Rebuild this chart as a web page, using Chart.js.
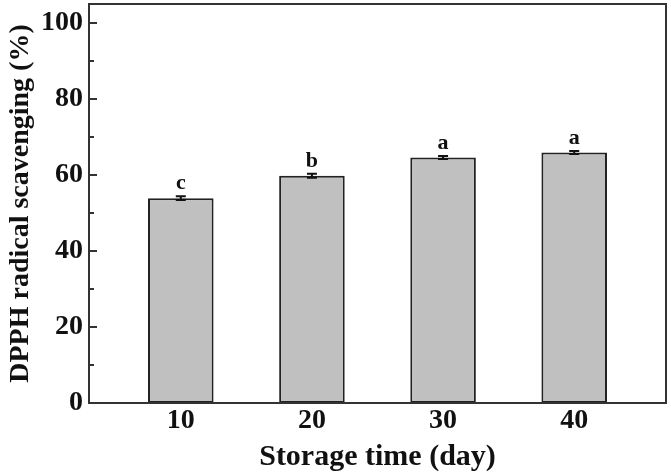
<!DOCTYPE html>
<html>
<head>
<meta charset="utf-8">
<script src="https://cdn.jsdelivr.net/npm/chart.js@4.4.0/dist/chart.umd.min.js"></script>
<style>
  html, body { margin: 0; padding: 0; background: #fff; }
  #wrap { width: 671px; height: 474px; }
</style>
</head>
<body>
<div id="wrap"><canvas id="mainGraph" width="671" height="474"></canvas></div>
<script>
// storage days and DPPH values
var days = [10, 20, 30, 40];
var scavenging = [53.9, 59.8, 64.6, 65.9];
var errors = [0.5, 0.5, 0.4, 0.4];
var letters = ['c', 'b', 'a', 'a'];
var xTicks = [10, 20, 30, 40];
var yTicks = [0, 10, 20, 30, 40, 50, 60, 70, 80, 90, 100];

var serif = '"Liberation Serif", "DejaVu Serif", serif';

var points = [];
for (var i = 0; i < days.length; i++) {
    points.push({ x: days[i], y: scavenging[i] });
}

// frame, inward ticks, error bars and letters
var extras = {
    id: 'extras',
    afterDatasetsDraw: function (chart) {
        var ctx = chart.ctx;
        var area = chart.chartArea;
        var xs = chart.scales.x;
        var ys = chart.scales.y;
        ctx.save();

        // error bars
        ctx.strokeStyle = '#111';
        ctx.lineWidth = 2;
        for (var i = 0; i < days.length; i++) {
            var px = xs.getPixelForValue(days[i]);
            var top = ys.getPixelForValue(scavenging[i] + errors[i]);
            var bot = ys.getPixelForValue(scavenging[i] - errors[i]);
            ctx.beginPath();
            ctx.moveTo(px, top); ctx.lineTo(px, bot);
            ctx.moveTo(px - 5, top); ctx.lineTo(px + 5, top);
            ctx.moveTo(px - 5, bot); ctx.lineTo(px + 5, bot);
            ctx.stroke();

            ctx.fillStyle = '#111';
            ctx.font = 'bold 22px ' + serif;
            ctx.textAlign = 'center';
            ctx.textBaseline = 'bottom';
            ctx.fillText(letters[i], px, top - 2);
        }

        // frame
        ctx.strokeStyle = '#333';
        ctx.lineWidth = 2;
        ctx.strokeRect(area.left, area.top, area.right - area.left, area.bottom - area.top);

        // inward ticks on y axis
        ys.ticks.forEach(function (t) {
            var py = ys.getPixelForValue(t.value);
            var len = (t.value % 20 === 0) ? 8 : 5;
            ctx.beginPath();
            ctx.moveTo(area.left, py);
            ctx.lineTo(area.left + len, py);
            ctx.stroke();
        });
        ctx.restore();
    }
};

var ctx = document.getElementById('mainGraph').getContext('2d');
var chart = new Chart(ctx, {
    type: 'bar',
    data: {
        datasets: [{
            data: points,
            backgroundColor: '#c0c0c0',
            borderColor: '#222',
            borderWidth: 2,
            borderSkipped: false,
            categoryPercentage: 1,
            barPercentage: 0.5
        }]
    },
    options: {
        responsive: false,
        animation: false,
        layout: { padding: { left: 7, right: 5, top: 4, bottom: 2 } },
        plugins: {
            legend: { display: false },
            tooltip: { enabled: false }
        },
        scales: {
            x: {
                type: 'linear',
                offset: false,
                min: 3,
                max: 47,
                afterBuildTicks: function (axis) {
                    axis.ticks = xTicks.map(function (v) { return { value: v }; });
                },
                grid: { display: false, drawTicks: false },
                border: { display: false },
                ticks: {
                    padding: 4,
                    color: '#111',
                    font: { family: serif, size: 28, weight: 'bold', lineHeight: 1 },
                    maxRotation: 0
                },
                title: {
                    display: true,
                    text: 'Storage time (day)',
                    color: '#111',
                    padding: { top: 3, bottom: 0 },
                    font: { family: serif, size: 30, weight: 'bold', lineHeight: 1 }
                }
            },
            y: {
                min: 0,
                max: 105,
                afterBuildTicks: function (axis) {
                    axis.ticks = yTicks.map(function (v) { return { value: v }; });
                },
                afterFit: function (axis) {
                    // top label sits well below the edge, no room needed
                    axis.paddingTop = 0;
                },
                grid: { display: false, drawTicks: false },
                border: { display: false },
                ticks: {
                    padding: 6,
                    color: '#111',
                    font: { family: serif, size: 28, weight: 'bold', lineHeight: 1 },
                    callback: function (v) { return v % 20 === 0 ? v : ''; }
                },
                title: {
                    display: true,
                    text: 'DPPH radical scavenging (%)',
                    color: '#111',
                    padding: { top: 0, bottom: 0 },
                    font: { family: serif, size: 28, weight: 'bold', lineHeight: 1 }
                }
            }
        }
    },
    plugins: [extras]
});
</script>
</body>
</html>
